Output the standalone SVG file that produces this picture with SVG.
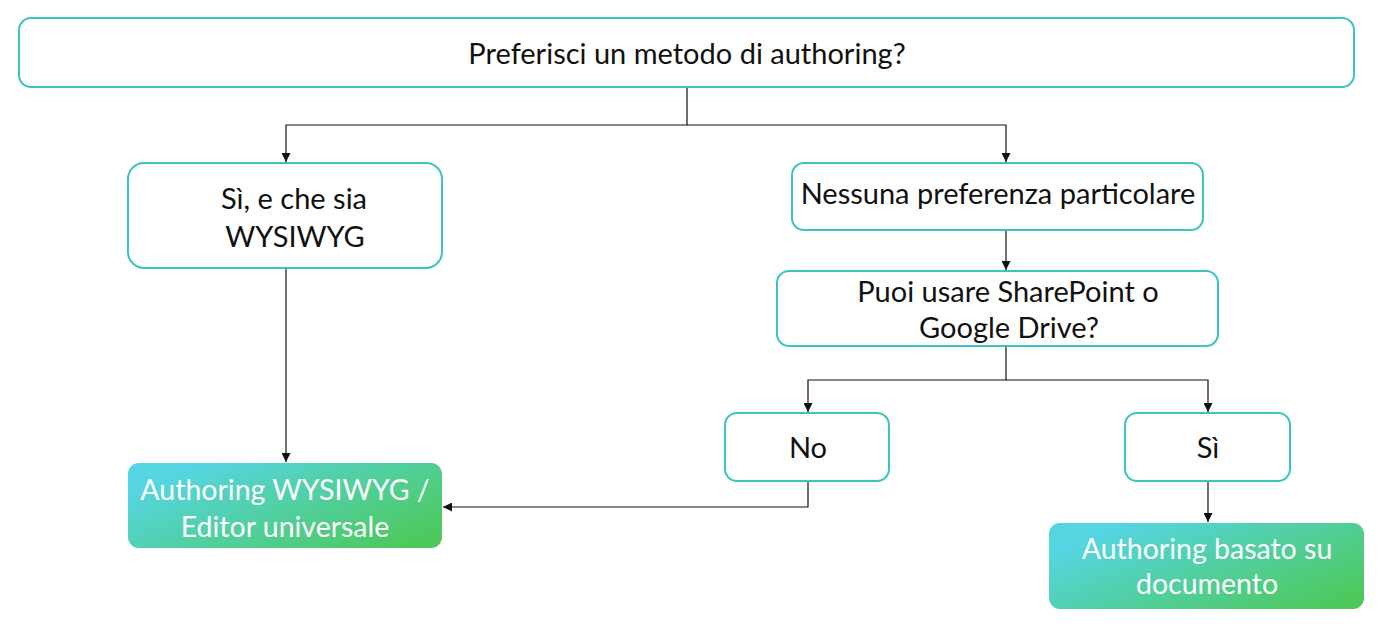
<svg xmlns="http://www.w3.org/2000/svg" width="1384" height="625" viewBox="0 0 1384 625">
<style>
.box{fill:#ffffff;stroke:#3cc4be;stroke-width:2}
.t{font-family:Lato,"Open Sans",sans-serif;font-size:29px;fill:#111111;text-anchor:middle}
.w{font-family:Lato,"Open Sans",sans-serif;font-size:28.5px;fill:#ffffff;text-anchor:middle}
.c{fill:none;stroke:#111111;stroke-width:1.2}
</style>
<defs>
<linearGradient id="g" x1="0.1" y1="0.2" x2="1" y2="0.8">
<stop offset="0" stop-color="#55d5e2"/>
<stop offset="1" stop-color="#4dc95c"/>
</linearGradient>
<marker id="a" viewBox="0 0 10 10" refX="10" refY="5" markerWidth="9" markerHeight="9" markerUnits="userSpaceOnUse" orient="auto">
<path d="M0,0 L10,5 L0,10 Z" fill="#111111"/>
</marker>
</defs>
<rect width="1384" height="625" fill="#ffffff"/>
<g id="connectors">
<path class="c" d="M687,87 V125 H286 V162" marker-end="url(#a)"/>
<path class="c" d="M687,125 H1006 V162" marker-end="url(#a)"/>
<path class="c" d="M1006,230 V270" marker-end="url(#a)"/>
<path class="c" d="M1006,346 V380 H808 V412" marker-end="url(#a)"/>
<path class="c" d="M1006,380 H1208 V412" marker-end="url(#a)"/>
<path class="c" d="M286,268 V462" marker-end="url(#a)"/>
<path class="c" d="M808,481 V507 H443" marker-end="url(#a)"/>
<path class="c" d="M1208,481 V522" marker-end="url(#a)"/>
</g>
<g id="q1">
<rect class="box" x="19" y="18" width="1335" height="69" rx="12"/>
<text class="t" x="687" y="64">Preferisci un metodo di authoring?</text>
</g>
<g id="yes-wysiwyg">
<rect class="box" x="128" y="163" width="314" height="105" rx="16"/>
<text class="t" x="294" y="209">Sì, e che sia</text>
<text class="t" x="295" y="247">WYSIWYG</text>
</g>
<g id="no-pref">
<rect class="box" x="792" y="163" width="411" height="67" rx="12"/>
<text class="t" x="998" y="204">Nessuna preferenza particolare</text>
</g>
<g id="q2">
<rect class="box" x="777" y="271" width="441" height="75" rx="12"/>
<text class="t" x="1008" y="302">Puoi usare SharePoint o</text>
<text class="t" x="1009" y="338">Google Drive?</text>
</g>
<g id="no">
<rect class="box" x="725" y="413" width="164" height="68" rx="12"/>
<text class="t" x="808" y="458">No</text>
</g>
<g id="si">
<rect class="box" x="1125" y="413" width="165" height="68" rx="12"/>
<text class="t" x="1208" y="458">Sì</text>
</g>
<g id="wysiwyg-ue">
<rect x="128" y="463" width="314" height="85" rx="11" fill="url(#g)"/>
<text class="w" x="285" y="500">Authoring WYSIWYG /</text>
<text class="w" x="285" y="537">Editor universale</text>
</g>
<g id="doc-based">
<rect x="1049" y="523" width="315" height="86" rx="11" fill="url(#g)"/>
<text class="w" x="1207" y="559">Authoring basato su</text>
<text class="w" x="1207" y="594">documento</text>
</g>
</svg>
